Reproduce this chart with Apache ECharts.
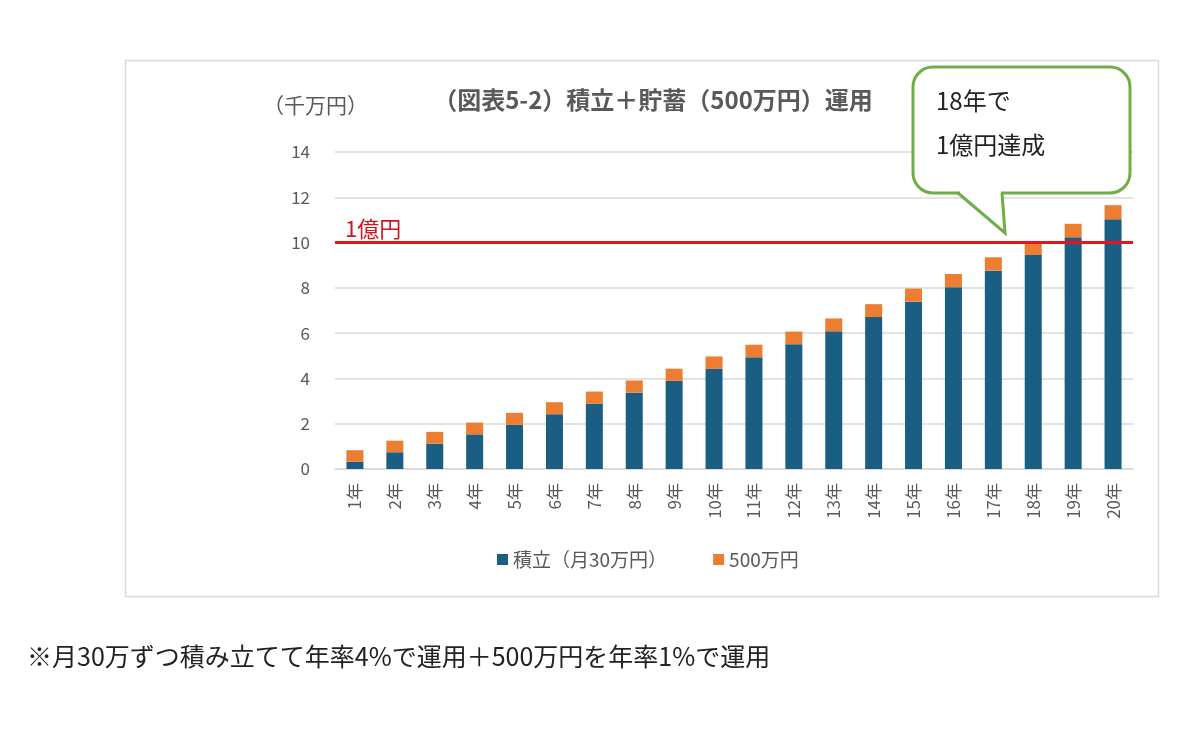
<!DOCTYPE html>
<html>
<head>
<meta charset="utf-8">
<script src="https://cdn.jsdelivr.net/npm/echarts@6/dist/echarts.min.js"></script>
<style>
  html, body { margin: 0; padding: 0; background: #fff; }
  #main { width: 1200px; height: 730px; }
</style>
</head>
<body>
<div id="main"></div>
<script>
const years = ['1年', '2年', '3年', '4年', '5年', '6年', '7年', '8年', '9年', '10年',
  '11年', '12年', '13年', '14年', '15年', '16年', '17年', '18年', '19年', '20年']
// 千万円
const tsumitate = [0.32, 0.74, 1.12, 1.53, 1.95, 2.42, 2.88, 3.37, 3.89, 4.42,
  4.93, 5.51, 6.08, 6.71, 7.39, 8.03, 8.76, 9.45, 10.23, 11.03]
const chochiku = [0.51, 0.51, 0.52, 0.52, 0.53, 0.53, 0.54, 0.54, 0.54, 0.55,
  0.56, 0.56, 0.57, 0.57, 0.58, 0.58, 0.59, 0.60, 0.60, 0.62]
const goalValue = 10

const font = '"Noto Sans CJK JP", "Noto Sans", sans-serif'
const gray = '#595959'
const green = '#70ad47'

const myChart = echarts.init(document.getElementById('main'))

myChart.setOption({
  animation: false,
  textStyle: { fontFamily: font },
  title: {
    text: '（図表5-2）積立＋貯蓄（500万円）運用',
    left: 648,
    textAlign: 'center',
    top: 83,
    textStyle: { fontSize: 24, fontWeight: 'bold', color: gray, fontFamily: font }
  },
  legend: {
    bottom: 156,
    left: 492,
    itemWidth: 11,
    itemHeight: 11,
    itemGap: 46,
    icon: 'rect',
    textStyle: { fontSize: 19, color: gray, fontFamily: font },
    data: ['積立（月30万円）', '500万円']
  },
  grid: { left: 335, right: 67, top: 152, bottom: 261 },
  xAxis: {
    type: 'category',
    data: years,
    axisTick: { show: false },
    axisLine: { lineStyle: { color: '#d9d9d9', width: 1.5 } },
    axisLabel: { rotate: 90, color: gray, fontSize: 17, margin: 14, fontFamily: font }
  },
  yAxis: {
    type: 'value',
    min: 0,
    max: 14,
    interval: 2,
    axisLabel: { color: gray, fontSize: 17, margin: 25, fontFamily: font },
    splitLine: { lineStyle: { color: '#d9d9d9', width: 1.5 } }
  },
  series: [
    {
      name: '積立（月30万円）',
      type: 'bar',
      stack: 'total',
      data: tsumitate,
      barWidth: 17,
      itemStyle: { color: '#1a5e83' },
      markLine: {
        silent: true,
        symbol: 'none',
        data: [{ yAxis: goalValue }],
        lineStyle: { color: '#e3161f', width: 3, type: 'solid' },
        label: {
          show: true,
          position: 'insideStartTop',
          formatter: '1億円',
          color: '#d0141c',
          fontSize: 22,
          distance: [10, 3],
          fontFamily: font
        }
      }
    },
    {
      name: '500万円',
      type: 'bar',
      stack: 'total',
      data: chochiku,
      barWidth: 17,
      itemStyle: { color: '#ed7d31' }
    }
  ],
  graphic: [
    {
      type: 'rect',
      shape: { x: 125.5, y: 60.5, width: 1033, height: 536 },
      style: { fill: 'none', stroke: '#d9d9d9', lineWidth: 1.5 },
      z: -1
    },
    {
      type: 'text',
      x: 263,
      y: 95,
      style: { text: '（千万円）', fill: gray, font: '21px ' + font }
    },
    // 吹き出し
    {
      type: 'rect',
      shape: { x: 913, y: 67, width: 217, height: 126, r: 20 },
      style: { fill: '#fff', stroke: green, lineWidth: 3 },
      z: 10
    },
    {
      type: 'rect',
      shape: { x: 960, y: 190, width: 41, height: 6 },
      style: { fill: '#fff' },
      z: 11
    },
    {
      type: 'polygon',
      shape: { points: [[958, 193], [1005, 233], [1002, 193]] },
      style: { fill: '#fff', stroke: 'none' },
      z: 11
    },
    {
      type: 'polyline',
      shape: { points: [[958, 193], [1005, 233], [1002, 193]] },
      style: { fill: 'none', stroke: green, lineWidth: 3, lineJoin: 'miter' },
      z: 12
    },
    {
      type: 'text',
      x: 936,
      y: 89,
      z: 13,
      style: { text: '18年で', fill: '#222', font: '24px ' + font }
    },
    {
      type: 'text',
      x: 936,
      y: 133,
      z: 13,
      style: { text: '1億円達成', fill: '#222', font: '24px ' + font }
    },
    {
      type: 'text',
      x: 27,
      y: 644,
      style: {
        text: '※月30万ずつ積み立てて年率4%で運用＋500万円を年率1%で運用',
        fill: '#222',
        font: '25px ' + font
      }
    }
  ]
})
</script>
</body>
</html>
